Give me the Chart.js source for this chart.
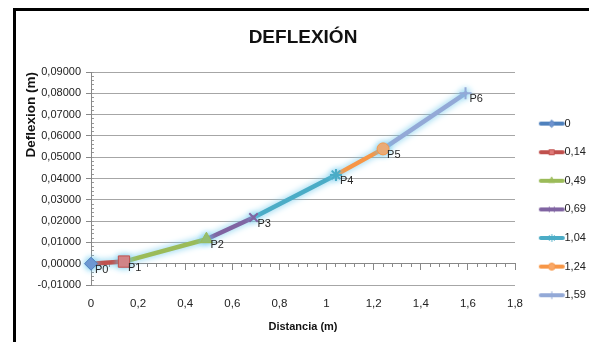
<!DOCTYPE html>
<html>
<head>
<meta charset="utf-8">
<script src="https://cdn.jsdelivr.net/npm/chart.js@4/dist/chart.umd.min.js"></script>
<style>
  body { margin: 0; background: #fff; overflow: hidden; }
  #marco { position: absolute; left: 13px; top: 8px; width: 700px; height: 500px;
           border-top: 3px solid #000; border-left: 3px solid #000; }
  #deflexionChart { position: absolute; left: 0; top: 0; }
</style>
</head>
<body>
<div id="marco"></div>
<canvas id="deflexionChart" width="589" height="342"></canvas>
<script>
// datos
const series = ['0', '0,14', '0,49', '0,69', '1,04', '1,24', '1,59'];
const puntos = ['P0', 'P1', 'P2', 'P3', 'P4', 'P5', 'P6'];
const distancia = [0, 0.14, 0.49, 0.69, 1.04, 1.24, 1.59];
const deflexion = [0, 0.001, 0.0115, 0.0217, 0.0417, 0.0539, 0.080];

const colores = ['#4F81BD', '#C0504D', '#9BBB59', '#8064A2', '#4BACC6', '#F79646', '#93A9D7'];
const rellenos = ['#6E92CF', '#E07A78', '#9BBB59', '#8B9BD0', '#7FC6DA', '#F9A868', '#9DB0DD'];
const marcadores = ['rectRot', 'rect', 'triangle', 'crossRot', 'star', 'circle', 'cross'];
const radios = [6.5, 8, 7, 6, 6, 6, 6];

const fuente = "'Liberation Sans Narrow', 'Liberation Sans', Arial, sans-serif";
Chart.defaults.font.family = fuente;
Chart.defaults.color = '#222';

// cada serie es un tramo entre el punto anterior y el suyo
const datasets = series.map((nombre, i) => {
    const tramo = i === 0
        ? [{x: distancia[0], y: deflexion[0]}]
        : [{x: distancia[i - 1], y: deflexion[i - 1]}, {x: distancia[i], y: deflexion[i]}];
    return {
        label: nombre,
        data: tramo,
        clip: false,
        borderColor: colores[i],
        borderWidth: 4.5,
        borderCapStyle: 'round',
        borderJoinStyle: 'round',
        tension: 0,
        pointStyle: marcadores[i],
        pointRadius: i === 0 ? [radios[0]] : [0, radios[i]],
        pointHoverRadius: i === 0 ? [radios[0]] : [0, radios[i]],
        pointBackgroundColor: rellenos[i],
        pointBorderColor: colores[i],
        pointBorderWidth: (marcadores[i] === 'crossRot' || marcadores[i] === 'star' || marcadores[i] === 'cross') ? 2 : 1,
    };
});

// iconos de leyenda: linea con marcador
function icono(i) {
    const c = document.createElement('canvas');
    c.width = 40; c.height = 16;
    const g = c.getContext('2d');
    g.strokeStyle = colores[i];
    g.lineWidth = 4;
    g.lineCap = 'round';
    g.beginPath(); g.moveTo(15, 8); g.lineTo(37, 8); g.stroke();
    g.fillStyle = rellenos[i];
    g.strokeStyle = colores[i];
    g.lineWidth = 1;
    if (Chart.helpers && Chart.helpers.drawPoint) {
        Chart.helpers.drawPoint(g, {pointStyle: marcadores[i], radius: 3.5, borderWidth: 1}, 26, 8);
    }
    return c;
}
const iconos = series.map((s, i) => icono(i));

const brilloYEtiquetas = {
    id: 'brilloYEtiquetas',
    beforeDatasetsDraw(chart) {
        const ctx = chart.ctx;
        ctx.save();
        ctx.shadowColor = 'rgba(110, 200, 235, 1)';
        ctx.shadowBlur = 7;
    },
    afterDatasetsDraw(chart) {
        const ctx = chart.ctx;
        ctx.restore();
        ctx.save();
        ctx.font = '11px ' + fuente;
        ctx.fillStyle = '#262626';
        ctx.textAlign = 'left';
        ctx.textBaseline = 'middle';
        chart.data.datasets.forEach((ds, i) => {
            const meta = chart.getDatasetMeta(i);
            const p = meta.data[meta.data.length - 1];
            ctx.fillText(puntos[i], p.x + 4, p.y + 6);
        });
        ctx.restore();
    }
};

var ctx = document.getElementById('deflexionChart').getContext('2d');

const deflexionChart = new Chart(ctx, {
    type: 'line',
    data: { datasets: datasets },
    options: {
        responsive: false,
        animation: false,
        devicePixelRatio: 1,
        layout: { padding: 0 },
        scales: {
            x: {
                type: 'linear',
                min: 0,
                max: 1.8,
                grid: { display: false, drawTicks: false },
                border: { display: false },
                ticks: {
                    stepSize: 0.2,
                    padding: 12,
                    font: { size: 11.5 },
                    color: '#222',
                    callback: v => String(Number(v.toFixed(1))).replace('.', ','),
                },
                title: {
                    display: true,
                    text: 'Distancia (m)',
                    font: { size: 11, weight: 'bold' },
                    color: '#111',
                    padding: { top: 0, bottom: 8 },
                },
                afterFit(scale) { scale.height = 57; }
            },
            y: {
                type: 'linear',
                min: -0.01,
                max: 0.09,
                grid: { color: '#a6a6a6', tickLength: 5, tickColor: '#888' },
                border: { color: '#888' },
                ticks: {
                    stepSize: 0.01,
                    padding: 5,
                    font: { size: 11 },
                    color: '#222',
                    callback: v => (Math.abs(v) < 1e-9 ? 0 : v).toFixed(5).replace('.', ','),
                },
                title: {
                    display: true,
                    text: 'Deflexion (m)',
                    align: 'end',
                    font: { family: "'Liberation Sans', Arial, sans-serif", size: 13.5, weight: 'bold' },
                    color: '#111',
                    padding: { top: 23, bottom: 0 },
                },
                afterFit(scale) { scale.width = 91; }
            },
            xMenor: {
                type: 'linear', axis: 'x', position: { y: 0 },
                min: 0, max: 1.8,
                ticks: { display: false, stepSize: 0.04 },
                grid: { drawOnChartArea: false, tickLength: 3, color: '#888' },
                border: { color: '#888' },
            },
            xMayor: {
                type: 'linear', axis: 'x', position: { y: 0 },
                min: 0, max: 1.8,
                ticks: { display: false, stepSize: 0.2 },
                grid: { drawOnChartArea: false, tickLength: 6, color: '#888' },
                border: { display: false },
            },
            yMenor: {
                type: 'linear', axis: 'y', position: { x: 0 },
                min: -0.01, max: 0.09,
                ticks: { display: false, stepSize: 0.002 },
                grid: { drawOnChartArea: false, tickLength: -3, color: '#999' },
                border: { display: false },
            }
        },
        plugins: {
            title: {
                display: true,
                text: 'DEFLEXIÓN',
                fullSize: false,
                font: { size: 19, weight: 'bold' },
                color: '#111',
                padding: { top: 26, bottom: 23.2 }
            },
            legend: {
                position: 'right',
                fullSize: true,
                align: 'start',
                maxWidth: 74,
                title: { display: true, text: '', font: { size: 10 }, padding: { top: 88.5, bottom: 0 } },
                labels: {
                    usePointStyle: true,
                    pointStyleWidth: 26.4,
                    padding: 17.6,
                    font: { size: 11 },
                    color: '#222',
                    generateLabels: chart => chart.data.datasets.map((ds, i) => ({
                        text: ds.label,
                        pointStyle: iconos[i],
                        fillStyle: 'transparent',
                        strokeStyle: 'transparent',
                        lineWidth: 0,
                        hidden: false,
                        datasetIndex: i,
                        fontColor: '#222',
                    }))
                }
            },
            tooltip: { enabled: false }
        }
    },
    plugins: [brilloYEtiquetas]
})
</script>
</body>
</html>
